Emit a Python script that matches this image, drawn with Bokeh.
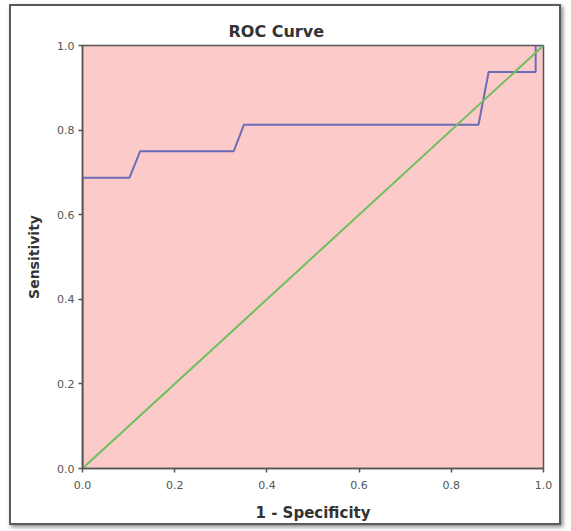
from bokeh.plotting import figure
from bokeh.models import Range1d, FixedTicker, PrintfTickFormatter
from bokeh.embed import file_html
from bokeh.resources import INLINE

# ROC curve data (1 - specificity, sensitivity)
fpr = [0.0, 0.0, 0.102, 0.125, 0.328, 0.350, 0.859, 0.881, 0.983, 0.983, 1.0]
tpr = [0.0, 0.6875, 0.6875, 0.75, 0.75, 0.8125, 0.8125, 0.9375, 0.9375, 1.0, 1.0]

# reference line
ref_x = [0.0, 1.0]
ref_y = [0.0, 1.0]

ticks = [0.0, 0.2, 0.4, 0.6, 0.8, 1.0]

FONT = "DejaVu Sans"

p = figure(width=552, height=521, output_backend="svg", toolbar_location=None,
           x_range=Range1d(0, 1), y_range=Range1d(0, 1),
           min_border_left=71, min_border_right=20, min_border_top=39, min_border_bottom=59)

p.background_fill_color = "#fdcaca"
p.border_fill_color = "white"
p.outline_line_color = "#555555"
p.outline_line_width = 1.5
p.xgrid.visible = False
p.ygrid.visible = False

p.title.text = "ROC Curve"
p.title.align = "left"
p.title.offset = 146
p.title.text_font = FONT
p.title.text_font_size = "16px"
p.title.text_font_style = "bold"
p.title.text_color = "#333333"

for ax in (p.xaxis[0], p.yaxis[0]):
    ax.ticker = FixedTicker(ticks=ticks)
    ax.formatter = PrintfTickFormatter(format="%.1f")
    ax.minor_tick_line_color = None
    ax.major_tick_in = 0
    ax.major_tick_out = 4
    ax.axis_line_color = "#555555"
    ax.axis_line_width = 1.5
    ax.major_tick_line_color = "#555555"
    ax.major_tick_line_width = 1.5
    ax.major_label_text_font = FONT
    ax.major_label_text_font_size = "11px"
    ax.major_label_text_color = "#555555"
    ax.axis_label_text_font = FONT
    ax.axis_label_text_font_style = "bold"
    ax.axis_label_text_color = "#333333"

p.xaxis[0].axis_label = "1 - Specificity"
p.xaxis[0].axis_label_text_font_size = "15px"
p.xaxis[0].major_label_standoff = 8
p.xaxis[0].axis_label_standoff = 12
p.yaxis[0].axis_label = "Sensitivity"
p.yaxis[0].axis_label_text_font_size = "14px"
p.yaxis[0].major_label_standoff = 4
p.yaxis[0].axis_label_standoff = 12

p.line(fpr, tpr, line_color="#6b6bb8", line_width=2)
p.line(ref_x, ref_y, line_color="#6cbf5a", line_width=2)

p.styles = {"margin": "4px 0px 0px 9px", "border": "2px solid #5a5a5a",
            "box-shadow": "2px 2px 4px #888888"}

open("out.html", "w").write(file_html(p, INLINE))
